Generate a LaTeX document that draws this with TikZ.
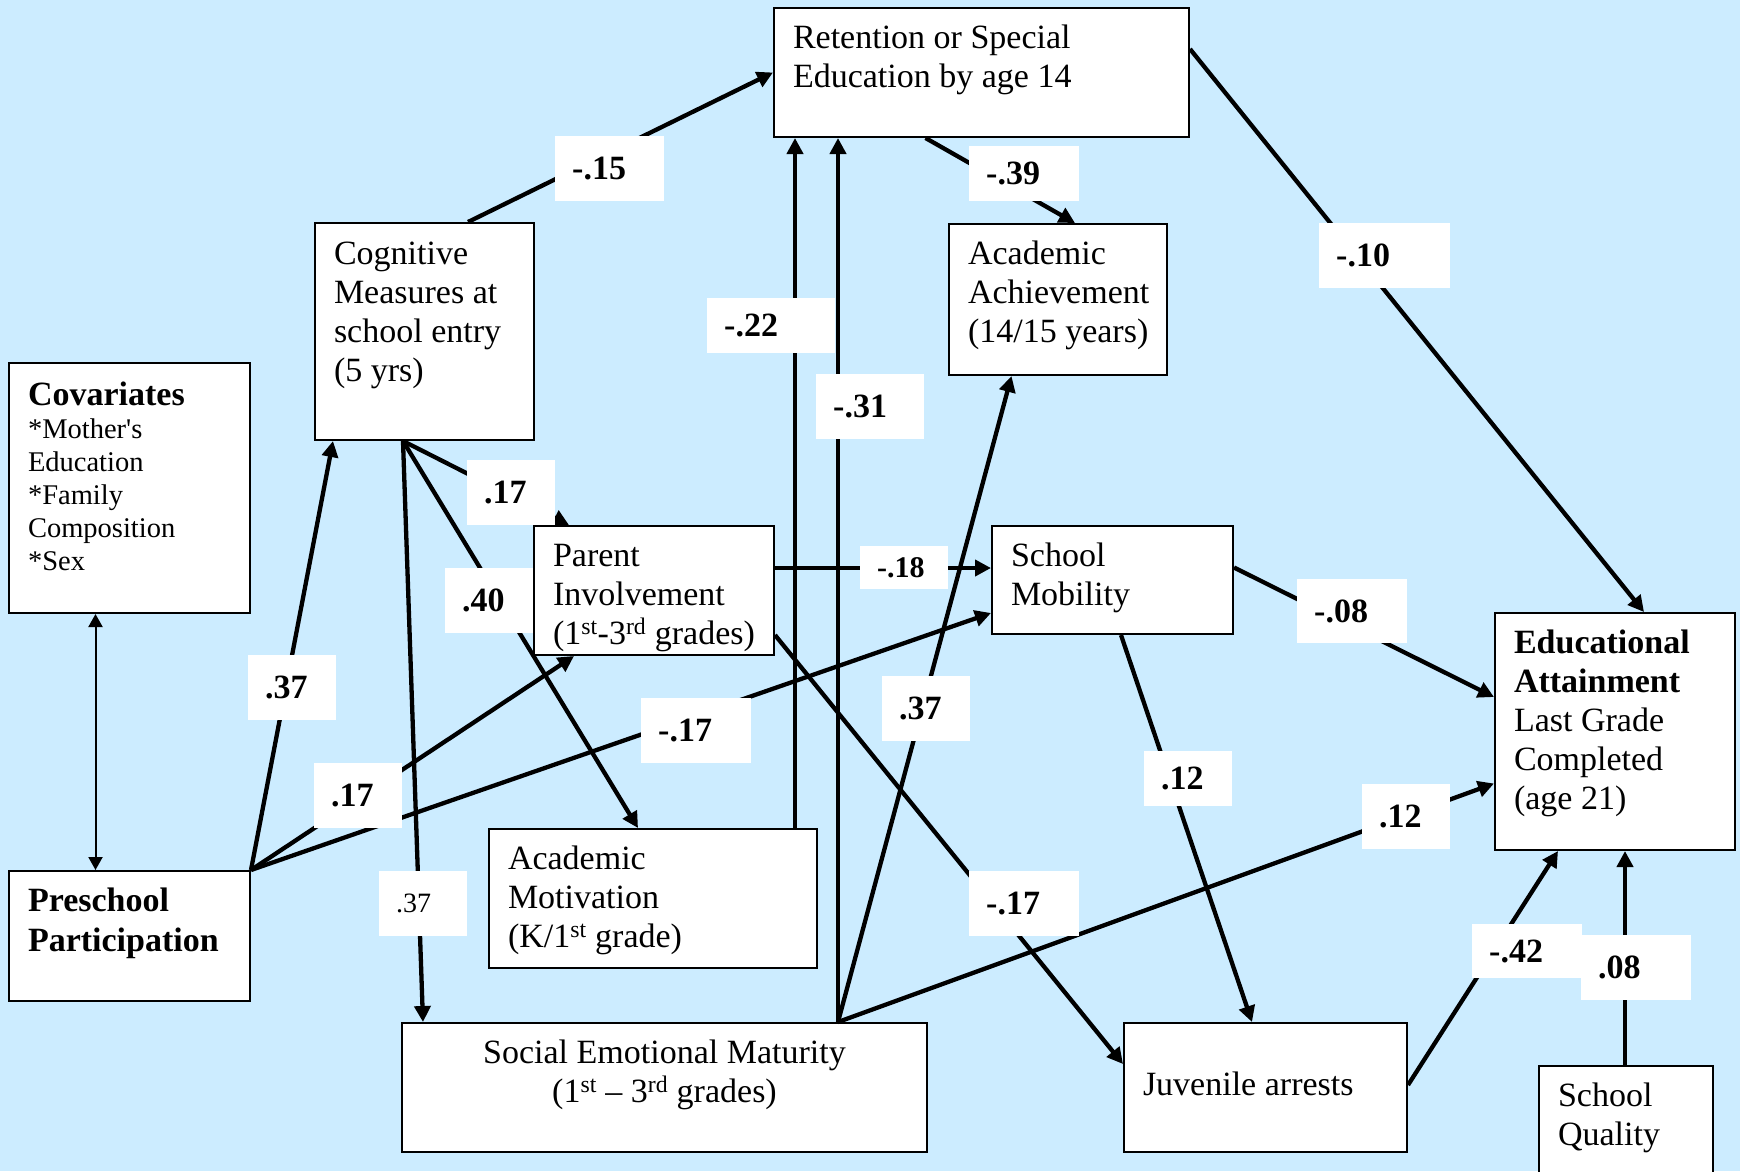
\documentclass[tikz,border=0pt]{standalone}
\usepackage{fontspec}
\setmainfont{Liberation Serif}
\usetikzlibrary{arrows.meta,calc}
\definecolor{bgblue}{RGB}{204,236,255}
\newcommand\lb[6]{\node[lbl] (#5) at (#1,#2) {\parbox[c][#4pt][c]{#3pt}{\hspace*{17pt}#6}};}
\newcommand\bxl[1]{\hbox to \hsize{#1\hss}}
\newcommand\bxc[1]{\hbox to \hsize{\hss#1\hss}}
\tikzset{
  box/.style={draw, line width=2pt, fill=white, anchor=north west, inner xsep=19pt, inner ysep=0pt,
    font=\fontsize{34}{39}\selectfont},
  lbl/.style={fill=white, anchor=north west, inner sep=0pt, font=\fontsize{34}{40}\selectfont\bfseries},
  arr/.style={line width=4.3pt, -{Triangle[length=16pt,width=16pt]}},
  thinarr/.style={line width=2pt, {Triangle[length=13pt,width=14pt]}-{Triangle[length=13pt,width=14pt]}}
}
\begin{document}
\begin{tikzpicture}[x=1pt,y=-1pt]
\useasboundingbox (0,0) rectangle (1740,1171);
\fill[bgblue] (0,0) rectangle (1740,1171);

% boxes
\node[box] (ret) at (773,7) {\parbox[t][129pt][t]{377pt}{\bxl{\rule{0pt}{40pt}Retention or Special}\bxl{Education by age 14}}};
\node[box] (cog) at (314,222) {\parbox[t][217pt][t]{181pt}{\bxl{\rule{0pt}{41pt}Cognitive}\bxl{Measures at}\bxl{school entry}\bxl{(5 yrs)}}};
\node[box] (cov) at (8,362) {\parbox[t][250pt][t]{203pt}{\bxl{\rule{0pt}{42pt}\bfseries Covariates}\fontsize{28.5}{33}\selectfont\bxl{*Mother\textquotesingle s}\bxl{Education}\bxl{*Family}\bxl{Composition}\bxl{*Sex}}};
\node[box] (aa) at (948,223) {\parbox[t][151pt][t]{180pt}{\bxl{\rule{0pt}{40pt}Academic}\bxl{Achievement}\bxl{(14/15 years)}}};
\node[box] (pi) at (533,525) {\parbox[t][129pt][t]{202pt}{\bxl{\rule{0pt}{40pt}Parent}\bxl{Involvement}\bxl{(1\textsuperscript{st}-3\textsuperscript{rd} grades)}}};
\node[box] (sm) at (991,525) {\parbox[t][108pt][t]{203pt}{\bxl{\rule{0pt}{40pt}School}\bxl{Mobility}}};
\node[box] (ea) at (1494,612) {\parbox[t][237pt][t]{202pt}{\bxl{\rule{0pt}{40pt}\bfseries Educational}\bxl{\bfseries Attainment}\bxl{Last Grade}\bxl{Completed}\bxl{(age 21)}}};
\node[box] (pre) at (8,870) {\parbox[t][130pt][t]{203pt}{\fontsize{34}{40}\selectfont\bxl{\rule{0pt}{40pt}\bfseries Preschool}\bxl{\bfseries Participation}}};
\node[box] (am) at (488,828) {\parbox[t][139pt][t]{290pt}{\bxl{\rule{0pt}{40pt}Academic}\bxl{Motivation}\bxl{(K/1\textsuperscript{st} grade)}}};
\node[box] (sem) at (401,1022) {\parbox[t][129pt][t]{487pt}{\bxc{\rule{0pt}{40pt}Social Emotional Maturity}\bxc{(1\textsuperscript{st} -- 3\textsuperscript{rd} grades)}}};
\node[box] (juv) at (1123,1022) {\parbox[t][129pt][t]{245pt}{\bxl{\rule{0pt}{72pt}Juvenile arrests}}};
\node[box] (sq) at (1538,1065) {\parbox[t][130pt][t]{136pt}{\bxl{\rule{0pt}{40pt}School}\bxl{Quality}}};

% connectors
\coordinate (cogb) at ($(cog.south west)+(89,0)$);
\coordinate (semt) at ($(sem.north west)+(437,0)$);
\coordinate (amt) at ($(am.north west)+(307,0)$);
\coordinate (pir) at ($(pi.north east)+(0,43)$);
\coordinate (sqt) at ($(sq.north west)+(87,0)$);

\draw[arr] ($(cog.north west)+(154,0)$) -- (ret.west);
\draw[arr] ($(ret.south west)+(152.5,0)$) -- ($(aa.north west)+(127,0)$);
\draw[arr] ($(ret.north east)+(0,42)$) -- ($(ea.north west)+(150,0)$);
\draw[arr] (amt) -- (amt |- ret.south);
\draw[arr] (semt) -- (semt |- ret.south);
\draw[arr] (cogb) -- ($(pi.north west)+(36,0)$);
\draw[arr] (cogb) -- ($(am.north west)+(150,0)$);
\draw[arr] (cogb) -- ($(sem.north west)+(22,0)$);
\draw[arr] (pre.north east) -- ($(cog.south west)+(19,0)$);
\draw[arr] (pre.north east) -- ($(pi.south west)+(41,0)$);
\draw[arr] (pre.north east) -- ($(sm.south west)+(0,-22)$);
\draw[thinarr] ($(cov.south west)+(87.5,0)$) -- ($(pre.north west)+(87.5,0)$);
\draw[arr] (pir) -- (pir -| sm.west);
\draw[arr] ($(pi.south east)+(0,-21)$) -- ($(juv.north west)+(0,42)$);
\draw[arr] (semt) -- ($(aa.south west)+(63.5,0)$);
\draw[arr] (semt) -- ($(ea.north west)+(0,171.5)$);
\draw[arr] ($(sm.north east)+(0,42.5)$) -- ($(ea.north west)+(0,85)$);
\draw[arr] ($(sm.south west)+(130,0)$) -- ($(juv.north west)+(129,0)$);
\draw[arr] ($(juv.north east)+(0,63)$) -- ($(ea.south west)+(64,0)$);
\draw[arr] (sqt) -- (sqt |- ea.south);

% labels
\lb{555}{136}{109}{65}{l15}{-.15}
\lb{969}{146}{110}{55}{l39}{-.39}
\lb{1319}{223}{131}{65}{l10}{-.10}
\lb{707}{298}{128}{55}{l22}{-.22}
\lb{816}{374}{108}{65}{l31}{-.31}
\lb{467}{460}{88}{65}{l17a}{.17}
\lb{445}{568}{88}{65}{l40}{.40}
\lb{860}{546}{88}{43}{l18}{\fontsize{30}{32}\selectfont -.18}
\lb{1297}{579}{110}{64}{l08}{-.08}
\lb{248}{655}{88}{65}{l37a}{.37}
\lb{314}{763}{88}{65}{l17b}{.17}
\lb{641}{698}{110}{65}{l17c}{-.17}
\lb{379}{871}{88}{65}{l37s}{\mdseries\fontsize{28}{30}\selectfont .37}
\lb{882}{676}{88}{65}{l37b}{.37}
\lb{1144}{751}{88}{55}{l12a}{.12}
\lb{1362}{784}{88}{65}{l12b}{.12}
\lb{969}{871}{110}{65}{l17d}{-.17}
\lb{1472}{924}{110}{54}{l42}{-.42}
\lb{1581}{935}{110}{65}{l08b}{.08}
\end{tikzpicture}
\end{document}
